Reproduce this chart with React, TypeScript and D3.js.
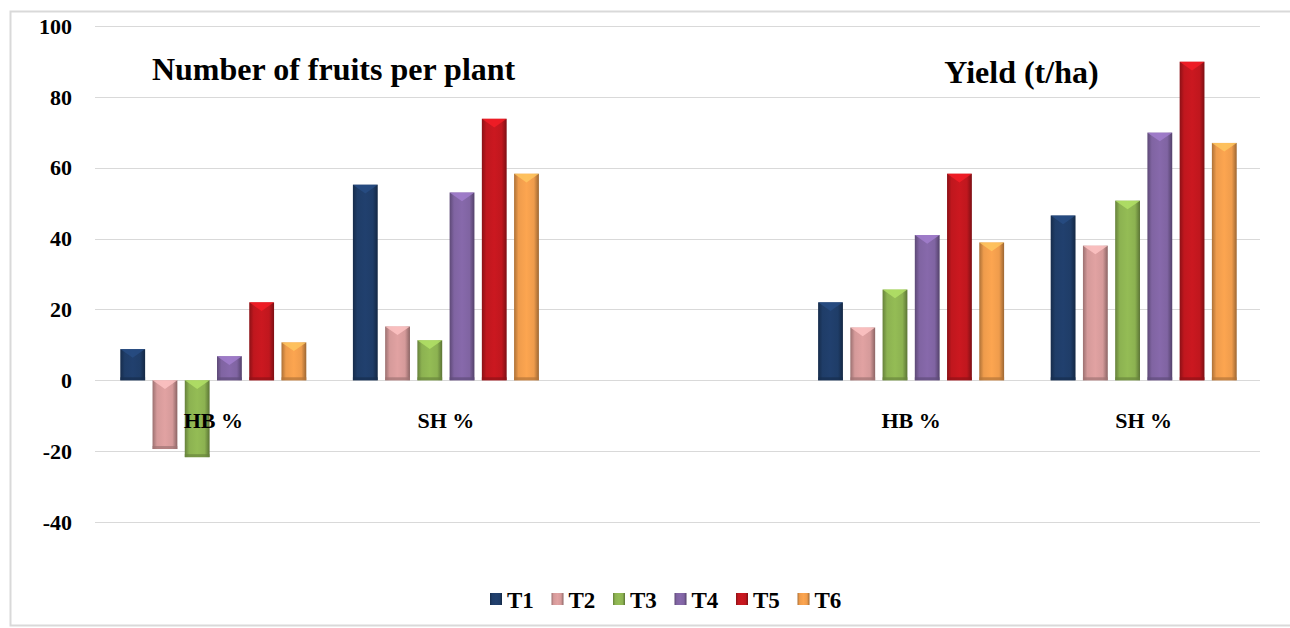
import { useEffect, useRef } from "react";
import * as d3 from "d3";

const width = 1290;
const height = 628;

const MARGIN = { top: 26, right: 30, bottom: 106, left: 97 };

// groups along x, the middle one is an empty gap between the two panels
const groups = ["HB %", "SH %", "", "HB %", "SH %"];
const series = ["T1", "T2", "T3", "T4", "T5", "T6"];
const colors = ["#1f3d68", "#d59a9a", "#8cb251", "#8064a2", "#c0171e", "#ef9c4c"];

const T1 = [8.8, 55.2, null, 22, 46.5];
const T2 = [-19.4, 15.2, null, 14.9, 38];
const T3 = [-21.7, 11.3, null, 25.6, 50.7];
const T4 = [6.8, 53, null, 41, 69.9];
const T5 = [22, 73.8, null, 58.3, 89.9];
const T6 = [10.7, 58.3, null, 38.9, 67];
const values = [T1, T2, T3, T4, T5, T6];

const yTicks = [-40, -20, 0, 20, 40, 60, 80, 100];
const titles = ["Number of fruits per plant", "Yield (t/ha)"];

const FONT = '"Liberation Serif", "Times New Roman", Times, "DejaVu Serif", serif';

function App() {
  const svgRef = useRef(null);

  useEffect(() => {
    draw();
  }, []);

  const draw = () => {
    const svg = d3.select(svgRef.current);
    svg.selectAll("*").remove();

    const innerW = width - MARGIN.left - MARGIN.right;

    const x0 = d3.scaleBand()
      .domain(groups.map((_, i) => String(i)))
      .range([MARGIN.left, MARGIN.left + innerW])
      .padding(0);

    const x1 = d3.scaleBand()
      .domain(series)
      .range([-93, 93])
      .paddingInner(0.23);

    const y = d3.scaleLinear()
      .domain([-40, 100])
      .range([522, 26]);

    // frame
    svg.append("rect")
      .attr("x", 10.5).attr("y", 11.5)
      .attr("width", 1290).attr("height", 614)
      .attr("fill", "white")
      .attr("stroke", "#d9d9d9")
      .attr("stroke-width", 2);

    // gradients for the bevelled bars
    const defs = svg.append("defs");
    colors.forEach((c, i) => {
      const base = d3.color(c);
      const g = defs.append("linearGradient")
        .attr("id", "bar" + i)
        .attr("x1", "0").attr("x2", "1").attr("y1", "0").attr("y2", "0");
      g.append("stop").attr("offset", "0%").attr("stop-color", base.darker(0.9).toString());
      g.append("stop").attr("offset", "18%").attr("stop-color", base.toString());
      g.append("stop").attr("offset", "50%").attr("stop-color", base.brighter(0.15).toString());
      g.append("stop").attr("offset", "80%").attr("stop-color", base.toString());
      g.append("stop").attr("offset", "100%").attr("stop-color", base.darker(1.2).toString());
    });

    // gridlines
    svg.append("g")
      .selectAll("line")
      .data(yTicks)
      .join("line")
      .attr("x1", 95)
      .attr("x2", 1260)
      .attr("y1", d => Math.round(y(d)) + 0.5)
      .attr("y2", d => Math.round(y(d)) + 0.5)
      .attr("stroke", "#d9d9d9")
      .attr("stroke-width", 1.2);

    const txt = (sel, size) =>
      sel.style("font-family", FONT)
        .attr("font-weight", "bold")
        .attr("font-size", size);

    // y-axis labels
    svg.append("g")
      .selectAll("text")
      .data(yTicks)
      .join("text")
      .attr("x", 72)
      .attr("y", d => y(d))
      .attr("dy", "0.35em")
      .attr("text-anchor", "end")
      .call(txt, 22)
      .text(d => d);

    // bars
    series.forEach((s, si) => {
      const base = d3.color(colors[si]);
      const gBar = svg.append("g");
      values[si].forEach((v, gi) => {
        if (v === null) return;
        const bx = x0(String(gi)) + x0.bandwidth() / 2 + x1(s);
        const bw = x1.bandwidth();
        const top = Math.min(y(v), y(0));
        const bh = Math.abs(y(v) - y(0));
        const bev = Math.min(bw * 0.35, bh / 2);
        const g = gBar.append("g");
        g.append("rect")
          .attr("x", bx).attr("y", top)
          .attr("width", bw).attr("height", bh)
          .attr("fill", `url(#bar${si})`);
        // lighter top bevel
        g.append("path")
          .attr("d", `M${bx},${top}L${bx + bw},${top}L${bx + bw / 2},${top + bev}Z`)
          .attr("fill", base.brighter(0.7).toString())
          .attr("opacity", 0.8);
        // darker bottom bevel
        g.append("rect")
          .attr("x", bx).attr("y", top + bh - Math.min(3, bh / 4))
          .attr("width", bw).attr("height", Math.min(3, bh / 4))
          .attr("fill", base.darker(0.8).toString())
          .attr("opacity", 0.7);
      });
    });

    // category labels
    svg.append("g")
      .selectAll("text")
      .data(groups)
      .join("text")
      .attr("x", (_, i) => x0(String(i)) + x0.bandwidth() / 2)
      .attr("y", 428)
      .attr("text-anchor", "middle")
      .call(txt, 22)
      .text(d => d);

    // panel titles
    svg.append("text")
      .attr("x", x0("1") + 4)
      .attr("y", 80)
      .attr("text-anchor", "middle")
      .call(txt, 32)
      .text(titles[0]);

    svg.append("text")
      .attr("x", x0("4") - 6)
      .attr("y", 83)
      .attr("text-anchor", "middle")
      .call(txt, 32)
      .text(titles[1]);

    // legend
    const legend = svg.append("g").attr("transform", "translate(490, 599)");
    const items = legend.selectAll("g")
      .data(series)
      .join("g")
      .attr("transform", (_, i) => `translate(${i * 61.5}, 0)`);
    items.append("rect")
      .attr("x", 0).attr("y", -6)
      .attr("width", 12).attr("height", 12)
      .attr("fill", (_, i) => `url(#bar${i})`);
    items.append("text")
      .attr("x", 17)
      .attr("y", 1)
      .attr("dy", "0.35em")
      .call(txt, 23)
      .text(d => d);
  };

  return (
    <svg
      ref={svgRef}
      width={width}
      height={height}
      style={{ position: "absolute", left: 0, top: 0, background: "white" }}
    />
  );
}

export default App;
